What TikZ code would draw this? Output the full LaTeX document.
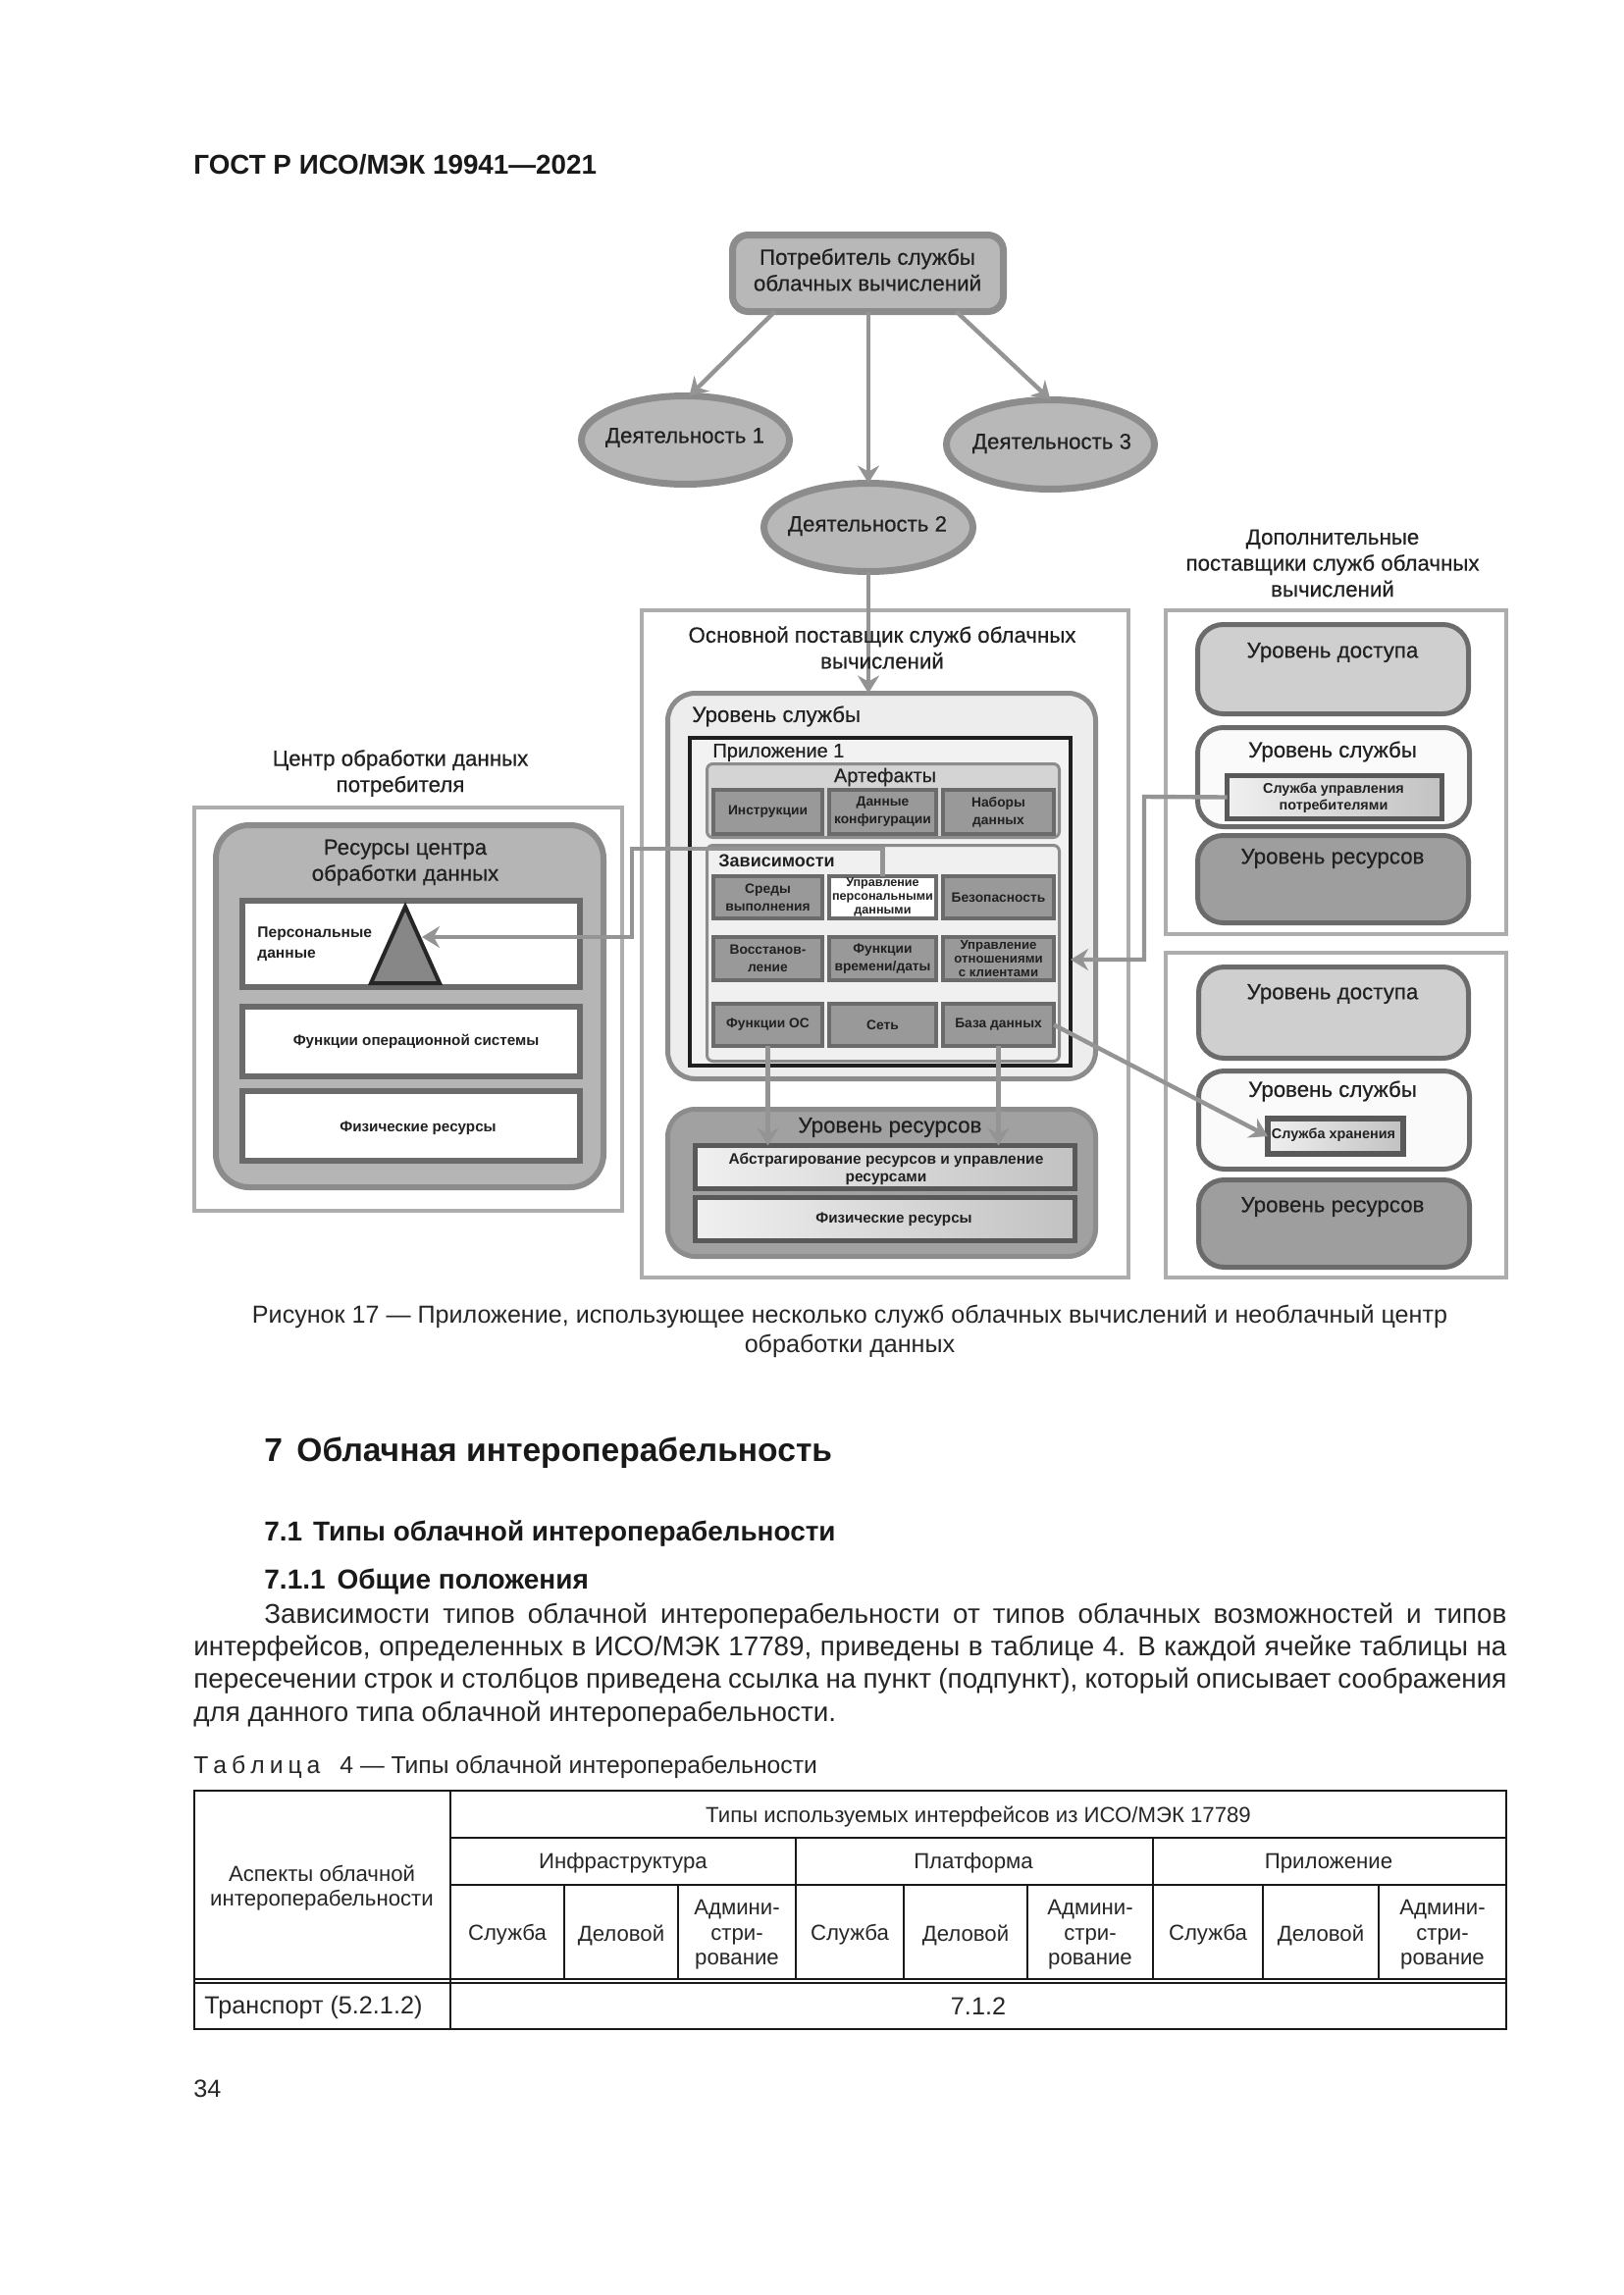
\documentclass[tikz,border=0pt]{standalone}
\usepackage{fontspec}
\setmainfont{Liberation Sans}
\newfontfamily\semif[FakeBold=0.45]{Liberation Sans}
\usetikzlibrary{shapes.geometric,arrows.meta,calc,shadings}
\newcommand{\mybox}[8]{%
  \pgfmathsetmacro\mycx{(#2+#4)/2}%
  \pgfmathsetmacro\mycy{(#3+#5)/2}%
  \pgfmathsetmacro\myw{(#4-#2-#6)*0.5}%
  \pgfmathsetmacro\myh{(#5-#3-#6)*0.5}%
  \pgfmathsetmacro\mylw{#6*0.5}%
  \node[draw,#7,line width=\mylw pt,minimum width=\myw pt,minimum height=\myh pt,inner sep=0pt,outer sep=0pt,align=center] (#1) at (\mycx,\mycy) {#8};}
\newcommand{\fz}[2]{\fontsize{#1}{#2}\selectfont}
\definecolor{ink}{gray}{0.13}
\definecolor{frame}{gray}{0.68}
\definecolor{wire}{gray}{0.58}
\definecolor{edge}{gray}{0.55}
\definecolor{darkedge}{gray}{0.42}
\tikzset{
  frm/.style={draw=frame,fill=white},
  roundA/.style={rounded corners=8pt,draw=edge,fill=black!28},
  oval/.style={ellipse,draw=edge,fill=black!28},
  level/.style={rounded corners=13pt,draw=darkedge},
  cellbox/.style={draw=darkedge,fill=black!40,text=ink,font=\bfseries\fz{6.9}{9}},
  cellw/.style={draw=darkedge,fill=white,text=ink,font=\bfseries\fz{6.3}{7}},
  cellt/.style={cellbox,font=\bfseries\fz{6.6}{7}},
  whitebar/.style={draw=darkedge,fill=white},
  gradbar/.style={draw=black!65,left color=black!6,right color=black!24,text=ink},
  big/.style={text=ink,inner sep=0pt,align=center,yshift=-1pt,font=\semif\fz{11.15}{13.3}},
  mid/.style={text=ink,inner sep=0pt,align=center,yshift=-1pt,font=\semif\fz{10}{12}},
  small/.style={text=ink,inner sep=0pt,align=center,yshift=-0.5pt,font=\bfseries\fz{7.6}{9}},
  body/.style={text=black!85,inner sep=0pt,yshift=-1pt,font=\fz{13.9}{16}},
  tcell/.style={text=black!85,inner sep=0pt,align=center,yshift=-1pt,font=\fz{11.1}{12.7}},
  conn/.style={draw=wire,line width=2.2pt,-{Stealth[length=9pt,width=11pt,inset=3pt]}},
  tthin/.style={draw=black!90,line width=0.6pt},
  tline/.style={draw=black!90,line width=0.9pt},
  touter/.style={draw=black!90,line width=1.3pt}
}
\begin{document}
\begin{tikzpicture}[x=0.5pt,y=-0.5pt]
\useasboundingbox[fill=white] (0,0) rectangle (1654,2339);

% page header
\node[anchor=west,inner sep=0pt,font=\bfseries\fz{13.9}{16},text=black!90] (hdr) at (197,168) {ГОСТ Р ИСО/МЭК 19941—2021};

% outer frames
\mybox{fmain}{652}{620}{1152}{1304}{4}{frm}{}
\mybox{fra}{1186}{620}{1537}{954}{4}{frm}{}
\mybox{frb}{1186}{969}{1537}{1304}{4}{frm}{}
\mybox{fdc}{196}{821}{636}{1236}{4}{frm}{}

% consumer and activities
\mybox{consumer}{743}{236}{1026}{321}{7}{roundA}{}
\node[big] (tconsumer) at (884,273) {Потребитель службы\\облачных вычислений};
\mybox{act1}{589}{400}{808}{497}{7}{oval}{}
\mybox{act3}{961}{404}{1180}{502}{7}{oval}{}
\mybox{act2}{775}{489}{995}{586}{7}{oval}{}
\node[big] (tact1) at (698,444) {Деятельность 1};
\node[big] (tact3) at (1072,450) {Деятельность 3};
\node[big] (tact2) at (884,534) {Деятельность 2};

% titles
\node[big] (tadd) at (1358,572) {Дополнительные\\поставщики служб облачных\\вычислений};
\node[big] (tdc) at (408,786) {Центр обработки данных\\потребителя};

% data centre
\mybox{dcres}{217}{838}{618}{1213}{6}{rounded corners=17pt,draw=edge,fill=black!29}{}
\node[big] (tdcres) at (413,877) {Ресурсы центра\\обработки данных};
\mybox{pbar}{244}{915}{594}{1009}{6}{whitebar}{}
\mybox{osbar}{244}{1023}{594}{1100}{6}{whitebar}{}
\mybox{physbar}{244}{1109}{594}{1186}{6}{whitebar}{}
\node[small,align=left,anchor=west,font=\bfseries\fz{7.8}{10.5}] (tpd) at (262,961) {Персональные\\данные};
\node[small] (tos) at (424,1060) {Функции операционной системы};
\node[small] (tphys) at (426,1149) {Физические ресурсы};
\coordinate (triA) at (413,924);
\coordinate (triB) at (378,1002);
\coordinate (triC) at (448,1002);
\draw[draw=black!85,fill=black!47,line width=2pt,line join=miter] (triA) -- (triB) -- (triC) -- cycle;

% main service level
\mybox{service}{678}{704}{1119}{1102}{5}{rounded corners=14pt,draw=edge,fill=black!7}{}
\node[big,anchor=west] (tservice) at (705,728) {Уровень службы};
\mybox{app}{701}{750}{1093}{1088}{4}{draw=black!88,fill=black!5}{}
\node[mid,anchor=west] (tapp) at (726,765) {Приложение 1};
\mybox{artef}{719}{777}{1081}{855}{3}{rounded corners=3pt,draw=edge,fill=black!17}{}
\node[mid] (tartef) at (902,790) {Артефакты};
\mybox{deps}{719}{860}{1081}{1083}{3}{rounded corners=3pt,draw=edge,fill=black!6}{}
\node[mid,anchor=west,font=\bfseries\fz{9}{12}] (tdeps) at (732,875) {Зависимости};

\mybox{c11}{725}{803}{840}{852}{4}{cellbox}{Инструкции}
\mybox{c12}{843}{803}{956}{852}{4}{cellbox}{Данные\\конфигурации}
\mybox{c13}{959}{803}{1076}{852}{4}{cellbox}{Наборы\\данных}
\mybox{c21}{725}{891}{840}{938}{4}{cellbox}{Среды\\выполнения}
\mybox{pd}{843}{891}{956}{938}{4}{cellw}{Управление\\персональными\\данными}
\mybox{c23}{959}{891}{1076}{938}{4}{cellbox}{Безопасность}
\mybox{c31}{725}{953}{840}{1001}{4}{cellbox}{Восстанов-\\ление}
\mybox{c32}{843}{953}{956}{1001}{4}{cellbox}{Функции\\времени/даты}
\mybox{c33}{959}{953}{1076}{1001}{4}{cellt}{Управление\\отношениями\\с клиентами}
\mybox{os}{725}{1021}{840}{1068}{4}{cellbox}{Функции ОС}
\mybox{net}{843}{1021}{956}{1068}{4}{cellbox}{Сеть}
\mybox{db}{959}{1021}{1076}{1068}{4}{cellbox}{База данных}

% main resource level
\mybox{res}{678}{1128}{1119}{1283}{5}{rounded corners=14pt,draw=edge,fill=black!37}{}
\node[big] (tres) at (907,1147) {Уровень ресурсов};
\mybox{abs}{706}{1165}{1098}{1214}{5}{gradbar}{}
\node[small,font=\bfseries\fz{7.75}{9}] (tabs) at (903,1190) {Абстрагирование ресурсов и управление\\ресурсами};
\mybox{phy}{706}{1218}{1098}{1267}{5}{gradbar}{}
\node[small] (tphy) at (911,1242) {Физические ресурсы};

% right provider A
\mybox{accA}{1218}{634}{1499}{730}{5}{level,fill=black!19}{}
\node[big] (taccA) at (1358,663) {Уровень доступа};
\mybox{svcA}{1218}{739}{1500}{845}{5}{level,fill=black!2}{}
\node[big] (tsvcA) at (1358,764) {Уровень службы};
\mybox{client}{1248}{788}{1472}{837}{5}{gradbar}{}
\node[small,font=\bfseries\fz{7.2}{8.5}] (tclient) at (1359,812) {Служба управления\\потребителями};
\mybox{resA}{1218}{849}{1499}{943}{5}{level,fill=black!38}{}
\node[big] (tresA) at (1358,873) {Уровень ресурсов};

% right provider B
\mybox{accB}{1219}{983}{1499}{1081}{5}{level,fill=black!19}{}
\node[big] (taccB) at (1358,1011) {Уровень доступа};
\mybox{svcB}{1219}{1089}{1500}{1194}{5}{level,fill=black!2}{}
\node[big] (tsvcB) at (1358,1110) {Уровень службы};
\mybox{storage}{1289}{1137}{1433}{1179}{6}{gradbar}{}
\node[small,font=\bfseries\fz{7.2}{9}] (tstorage) at (1359,1156) {Служба хранения};
\mybox{resB}{1219}{1200}{1500}{1294}{5}{level,fill=black!38}{}
\node[big] (tresB) at (1358,1228) {Уровень ресурсов};

% connectors
\draw[conn] ($(consumer.south west)+(43,0)$) -- ([xshift=2pt]act1.north);
\draw[conn] (act2.north |- consumer.south) -- (act2.north);
\draw[conn] ($(consumer.south east)+(-48,0)$) -- (act3.north);
\draw[conn] (act2.south) -- (act2.south |- service.north);
\draw[conn] (os.south) -- (os.south |- abs.north);
\draw[conn] (db.south) -- (db.south |- abs.north);
\draw[conn] (db.east) -- (storage.west);
\coordinate (cv1) at (1166,812);
\coordinate (cv2) at (1166,978);
\draw[conn] (client.west) -- (cv1) -- (cv2) -- (cv2 -| app.east);
\coordinate (hv1) at (644,865);
\coordinate (hv2) at (644,955);
\coordinate (trihit) at (430,955);
\draw[conn] (pd.north) -- (pd.north |- hv1) -- (hv1) -- (hv2) -- (trihit);

% title over the incoming connector
\node[big] (tmain) at (899,658) {Основной поставщик служб облачных\\вычислений};

% caption
\node[text=black!85,inner sep=0pt,align=center,font=\fz{12.55}{15}] (cap) at (866,1357) {Рисунок 17 — Приложение, использующее несколько служб облачных вычислений и необлачный центр\\обработки данных};

% sections
\node[anchor=west,inner sep=0pt,font=\bfseries\fz{16.8}{18},text=black!90] (s7) at (269,1481) {7\hspace{7.2pt}Облачная интероперабельность};
\node[anchor=west,inner sep=0pt,font=\bfseries\fz{13.95}{16},text=black!90] (s71) at (269,1563) {7.1\hspace{5.5pt}Типы облачной интероперабельности};
\node[anchor=west,inner sep=0pt,font=\bfseries\fz{14}{16},text=black!90] (s711) at (269,1612) {7.1.1\hspace{6pt}Общие положения};

\node[body,anchor=west] (p1) at (269,1645) {\makebox[633pt][s]{Зависимости типов облачной интероперабельности от типов облачных возможностей и типов}};
\node[body,anchor=west] (p2) at (197,1678) {\makebox[669pt][s]{интерфейсов, определенных в ИСО/МЭК 17789, приведены в таблице 4. В каждой ячейке таблицы на}};
\node[body,anchor=west] (p3) at (197,1711) {\makebox[669pt][s]{пересечении строк и столбцов приведена ссылка на пункт (подпункт), который описывает соображения}};
\node[body,anchor=west] (p4) at (197,1745) {для данного типа облачной интероперабельности.};
\node[body,anchor=west,font=\fz{12.35}{16}] (tcap) at (197,1799) {Т\hspace{2.5pt}а\hspace{2.5pt}б\hspace{2.5pt}л\hspace{2.5pt}и\hspace{2.5pt}ц\hspace{2.5pt}а\hspace{10pt}4 — Типы облачной интероперабельности};

% table
\draw[touter] (198,1825) rectangle (1535,2068);
\draw[tline] (459,1825) -- (459,2068);
\draw[tline] (459,1873) -- (1535,1873);
\draw[tline] (459,1921) -- (1535,1921);
\draw[tthin] (198,2017) -- (1535,2017);
\draw[tthin] (198,2021) -- (1535,2021);
\draw[tthin] (811,1873) -- (811,2017);
\draw[tline] (1175,1873) -- (1175,2017);
\foreach \vx in {575,691,921,1047,1287,1405} \draw[tthin] (\vx,1921) -- (\vx,2017);

\node[tcell] (th0) at (997,1850) {Типы используемых интерфейсов из ИСО/МЭК 17789};
\node[tcell] (th1) at (635,1897) {Инфраструктура};
\node[tcell] (th2) at (992,1897) {Платформа};
\node[tcell] (th3) at (1354,1897) {Приложение};
\node[tcell] (thA) at (328,1922) {Аспекты облачной\\интероперабельности};
\node[tcell] (s1) at (517,1970) {Служба};
\node[tcell] (d1) at (633,1970) {Деловой};
\node[tcell] (a1) at (751,1970) {Админи-\\стри-\\рование};
\node[tcell] (s2) at (866,1970) {Служба};
\node[tcell] (d2) at (984,1970) {Деловой};
\node[tcell] (a2) at (1111,1970) {Админи-\\стри-\\рование};
\node[tcell] (s3) at (1231,1970) {Служба};
\node[tcell] (d3) at (1346,1970) {Деловой};
\node[tcell] (a3) at (1470,1970) {Админи-\\стри-\\рование};
\node[tcell,anchor=west,font=\fz{12.6}{16}] (tr) at (208,2044) {Транспорт (5.2.1.2)};
\node[tcell,font=\fz{12.6}{16}] (v712) at (997,2043) {7.1.2};
\node[body,anchor=west,font=\fz{12.6}{16}] (pg) at (197,2127) {34};
\end{tikzpicture}
\end{document}
